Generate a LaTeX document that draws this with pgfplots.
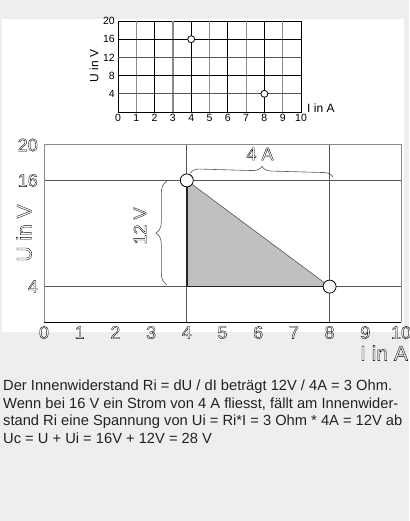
\documentclass[border=0pt]{standalone}
\usepackage{pgfplots}
\pgfplotsset{compat=1.18}
\usetikzlibrary{decorations.pathreplacing}
\usepackage{fontspec}
\setmainfont{Liberation Sans}
\definecolor{bg}{HTML}{EEEEEE}
\definecolor{tri}{HTML}{C0C0C0}
\definecolor{gridg}{HTML}{555555}
\definecolor{lg}{HTML}{8A8A8A}
\definecolor{txt}{HTML}{222222}
\newcommand{\hol}[1]{\special{pdf:literal direct 1 Tr 0.35 w}#1\special{pdf:literal direct 0 Tr}}
\begin{document}
\begin{tikzpicture}
\path[use as bounding box, fill=bg] (0,0) rectangle (409pt,-521pt);
\fill[white] (2pt,-19pt) rectangle (404pt,-332pt);

% ---------- small chart ----------
\begin{axis}[
  at={(118pt,-112pt)}, anchor=south west,
  width=183pt, height=91pt, scale only axis,
  xmin=0, xmax=10, ymin=0, ymax=20,
  xtick={0,1,...,10}, ytick={4,8,12,16,20},
  major tick length=0pt,
  tick label style={font=\fontsize{10.5}{12}\selectfont, text=black},
  /pgf/number format/assume math mode=true,
  xticklabel style={anchor=base, inner sep=0pt, yshift=-10pt},
  yticklabel style={inner sep=1pt, xshift=-2pt},
  axis line style={black, line width=0.8pt},
  clip=false,
]
\draw[lg, line width=1.2pt] (axis cs:1,0) -- (axis cs:1,20);
\draw[lg, line width=1.2pt] (axis cs:3,0) -- (axis cs:3,20);
\draw[lg, line width=1.2pt] (axis cs:5,0) -- (axis cs:5,20);
\draw[lg, line width=1.2pt] (axis cs:7,0) -- (axis cs:7,20);
\draw[lg, line width=1.2pt] (axis cs:9,0) -- (axis cs:9,20);
\draw[gridg, line width=1pt] (axis cs:0,4) -- (axis cs:10,4);
\draw[gridg, line width=1pt] (axis cs:0,12) -- (axis cs:10,12);
\draw[black, line width=0.8pt] (axis cs:0,8) -- (axis cs:10,8);
\draw[black, line width=0.8pt] (axis cs:0,16) -- (axis cs:10,16);
\draw[black, line width=0.8pt] (axis cs:2,0) -- (axis cs:2,20);
\draw[black, line width=0.8pt] (axis cs:4,0) -- (axis cs:4,20);
\draw[black, line width=0.8pt] (axis cs:6,0) -- (axis cs:6,20);
\draw[black, line width=0.8pt] (axis cs:8,0) -- (axis cs:8,20);
\addplot[only marks, mark=*, mark size=3.5pt, mark options={fill=white, draw=black, line width=0.8pt}]
  coordinates {(4,16) (8,4)};
\end{axis}
\node[rotate=90, font=\fontsize{12}{14}\selectfont] at (94pt,-66pt) {U in V};
\node[anchor=base west, inner sep=0pt, font=\fontsize{12}{14}\selectfont] at (307pt,-113pt) {I in A};

% ---------- main chart ----------
\begin{axis}[
  at={(44pt,-322pt)}, anchor=south west,
  width=357pt, height=177pt, scale only axis,
  xmin=0, xmax=10, ymin=0, ymax=20,
  xtick={0,1,...,10}, ytick={4,16,20},
  major tick length=0pt,
  axis line style={draw=none},
  tick label style={font=\fontsize{18}{20}\selectfont, text=black},
  /pgf/number format/assume math mode=true,
  xticklabel={\hol{\pgfmathprintnumber{\tick}}},
  yticklabel={\hol{\pgfmathprintnumber{\tick}}},
  xticklabel style={inner sep=1pt, yshift=-3pt},
  yticklabel style={inner sep=1pt, xshift=-5pt},
  clip=false,
]
\draw[gridg, line width=0.9pt] (axis cs:4,0) -- (axis cs:4,20);
\draw[gridg, line width=0.9pt] (axis cs:8,0) -- (axis cs:8,20);
\draw[gridg, line width=0.9pt] (axis cs:0,4) -- (axis cs:10,4);
\draw[gridg, line width=0.9pt] (axis cs:0,16) -- (axis cs:10,16);
\addplot[fill=tri, draw=gridg, line width=0.6pt] coordinates {(4,16) (8,4) (4,4)} -- cycle;
\addplot[black!85, line width=1.6pt] coordinates {(4,16) (4,4) (8,4)};
\draw[lg, line width=1pt] (rel axis cs:0,0) -- (rel axis cs:0,1) -- (rel axis cs:1,1) -- (rel axis cs:1,0);
\draw[black, line width=1pt] (rel axis cs:0,0) -- (rel axis cs:1,0);
\draw[gridg, line width=0.6pt, decorate, decoration={brace, amplitude=9pt, aspect=0.5}]
  (axis cs:4.1,16.8) -- (axis cs:8.1,16.35);
\draw[gridg, line width=0.6pt, decorate, decoration={brace, amplitude=11pt, aspect=0.5}]
  (axis cs:3.44,4.22) -- (axis cs:3.44,15.89);
\addplot[only marks, mark=*, mark size=6.5pt, mark options={fill=white, draw=black, line width=0.8pt}]
  coordinates {(4,16) (8,4)};
\end{axis}
\node[rotate=90, font=\fontsize{21}{24}\selectfont] at (24pt,-233pt) {\hol{U in V}};
\node[font=\fontsize{21}{24}\selectfont] at (384pt,-353pt) {\hol{I in A}};
\node[font=\fontsize{18}{20}\selectfont] at (260pt,-154pt) {\hol{4 A}};
\node[rotate=90, font=\fontsize{18}{20}\selectfont] at (140pt,-226pt) {\hol{12 V}};

% ---------- text ----------
\begin{scope}[every node/.style={anchor=base west, inner sep=0pt, text=txt, font=\fontsize{14.7}{17}\selectfont}]
\node at (3pt,-390.5pt) {Der Innenwiderstand Ri = dU / dI beträgt 12V / 4A = 3 Ohm.};
\node at (3pt,-408pt) {Wenn bei 16 V ein Strom von 4 A fliesst, fällt am Innenwider-};
\node at (3pt,-425.5pt) {stand Ri eine Spannung von Ui = Ri*I = 3 Ohm * 4A = 12V ab};
\node at (3pt,-443pt) {Uc = U + Ui = 16V + 12V = 28 V};
\end{scope}
\end{tikzpicture}
\end{document}
